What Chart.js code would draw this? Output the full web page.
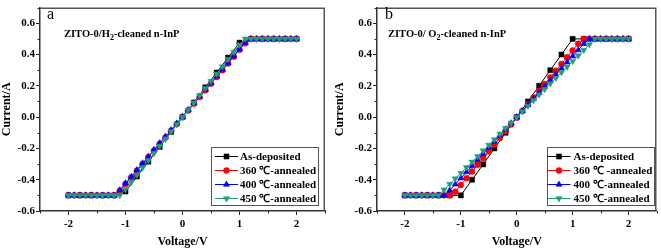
<!DOCTYPE html>
<html>
<head>
<meta charset="utf-8">
<script src="https://cdn.jsdelivr.net/npm/chart.js"></script>
<style>
  body { margin: 0; background: #fff; }
  #wrap { display: flex; width: 661px; height: 249px; }
  canvas { display: block; }
</style>
</head>
<body>
<div id="wrap">
  <canvas id="chartA" width="330" height="249"></canvas>
  <canvas id="chartB" width="331" height="249"></canvas>
</div>
<script>
// voltage sweep (red / blue / green sampled every 0.1 V, black every 0.2 V)
const voltsFine = [-2, -1.9, -1.8, -1.7, -1.6, -1.5, -1.4, -1.3, -1.2, -1.1, -1, -0.9, -0.8, -0.7, -0.6, -0.5, -0.4, -0.3, -0.2, -0.1,
  0, 0.1, 0.2, 0.3, 0.4, 0.5, 0.6, 0.7, 0.8, 0.9, 1, 1.1, 1.2, 1.3, 1.4, 1.5, 1.6, 1.7, 1.8, 1.9, 2];
const voltsCoarse = [-2, -1.8, -1.6, -1.4, -1.2, -1, -0.8, -0.6, -0.4, -0.2, 0, 0.2, 0.4, 0.6, 0.8, 1, 1.2, 1.4, 1.6, 1.8, 2];

// panel a : H2-cleaned
const aAsDep = [-0.5, -0.5, -0.5, -0.5, -0.5, -0.475, -0.38, -0.285, -0.19, -0.095, 0, 0.093, 0.19, 0.285, 0.38, 0.476, 0.5, 0.5, 0.5, 0.5, 0.5];
const a360 = [-0.5, -0.5, -0.5, -0.5, -0.5, -0.5, -0.5, -0.5, -0.5, -0.471, -0.427, -0.386, -0.342, -0.299, -0.256, -0.214, -0.171, -0.13, -0.087, -0.044,
  0, 0.042, 0.085, 0.128, 0.171, 0.214, 0.257, 0.3, 0.343, 0.386, 0.43, 0.472, 0.5, 0.5, 0.5, 0.5, 0.5, 0.5, 0.5, 0.5, 0.5];
const a400 = [-0.5, -0.5, -0.5, -0.5, -0.5, -0.5, -0.5, -0.5, -0.5, -0.467, -0.423, -0.381, -0.338, -0.295, -0.252, -0.209, -0.166, -0.125, -0.083, -0.04,
  0.003, 0.046, 0.089, 0.132, 0.175, 0.218, 0.261, 0.304, 0.347, 0.39, 0.434, 0.476, 0.5, 0.5, 0.5, 0.5, 0.5, 0.5, 0.5, 0.5, 0.5];
const a450 = [-0.5, -0.5, -0.5, -0.5, -0.5, -0.5, -0.5, -0.5, -0.5, -0.5, -0.462, -0.416, -0.37, -0.323, -0.277, -0.231, -0.185, -0.139, -0.092, -0.046,
  0, 0.046, 0.092, 0.139, 0.185, 0.231, 0.277, 0.323, 0.37, 0.416, 0.462, 0.5, 0.5, 0.5, 0.5, 0.5, 0.5, 0.5, 0.5, 0.5, 0.5];

// panel b : O2-cleaned
const bAsDep = [-0.5, -0.5, -0.5, -0.5, -0.5, -0.5, -0.4, -0.302, -0.2, -0.1, 0, 0.1, 0.2, 0.3, 0.4, 0.5, 0.5, 0.5, 0.5, 0.5, 0.5];
const b360 = [-0.5, -0.5, -0.5, -0.5, -0.5, -0.5, -0.5, -0.5, -0.5, -0.477, -0.434, -0.391, -0.348, -0.305, -0.262, -0.219, -0.176, -0.133, -0.09, -0.047,
  -0.004, 0.039, 0.082, 0.125, 0.168, 0.211, 0.254, 0.297, 0.34, 0.383, 0.426, 0.469, 0.5, 0.5, 0.5, 0.5, 0.5, 0.5, 0.5, 0.5, 0.5];
const b400 = [-0.5, -0.5, -0.5, -0.5, -0.5, -0.5, -0.5, -0.5, -0.468, -0.429, -0.39, -0.351, -0.312, -0.273, -0.234, -0.195, -0.156, -0.117, -0.078, -0.039,
  0, 0.039, 0.078, 0.117, 0.156, 0.195, 0.234, 0.273, 0.312, 0.351, 0.39, 0.429, 0.468, 0.5, 0.5, 0.5, 0.5, 0.5, 0.5, 0.5, 0.5];
const b450 = [-0.5, -0.5, -0.5, -0.5, -0.5, -0.5, -0.5, -0.464, -0.428, -0.393, -0.357, -0.321, -0.286, -0.25, -0.214, -0.178, -0.143, -0.107, -0.071, -0.036,
  0, 0.036, 0.071, 0.107, 0.143, 0.178, 0.214, 0.25, 0.286, 0.321, 0.357, 0.393, 0.428, 0.464, 0.5, 0.5, 0.5, 0.5, 0.5, 0.5, 0.5];

const namesA = ['As-deposited', '360 \u2103-annealed', '400 \u2103-annealed', '450 \u2103-annealed'];
const namesB = ['As-deposited', '360 \u2103 -annealed', '400 \u2103-annealed', '450 \u2103-annealed'];

const xTicks = [-2, -1, 0, 1, 2];
const yTicks = [-0.6, -0.4, -0.2, 0, 0.2, 0.4, 0.6];
const xMinor = [-2.5, -1.5, -0.5, 0.5, 1.5, 2.5];
const yMinor = [-0.5, -0.3, -0.1, 0.1, 0.3, 0.5, 0.7];

const serif = "'Liberation Serif', 'Times New Roman', serif";
Chart.defaults.font.family = serif;
Chart.defaults.color = '#000';

const colors = ['#000000', '#ff0000', '#0000ff', '#1f9e7a'];
const styles = [
  { pointStyle: 'rect', radius: 3.6, rotation: 0 },
  { pointStyle: 'circle', radius: 3, rotation: 0 },
  { pointStyle: 'triangle', radius: 3.6, rotation: 0 },
  { pointStyle: 'triangle', radius: 3.6, rotation: 180 }
];

const pts = (xs, ys) => xs.map((x, i) => ({ x: x, y: ys[i] }));

function makeSets(names, series) {
  return series.map((s, i) => ({
    label: names[i],
    data: s,
    showLine: true,
    borderColor: colors[i],
    borderWidth: 1,
    backgroundColor: colors[i],
    pointBackgroundColor: colors[i],
    pointBorderColor: colors[i],
    pointBorderWidth: 0.5,
    pointStyle: styles[i].pointStyle,
    pointRadius: styles[i].radius,
    pointRotation: styles[i].rotation,
    order: 4 - i
  }));
}

function drawMarker(ctx, st, x, y, color) {
  ctx.fillStyle = color;
  ctx.strokeStyle = color;
  ctx.lineWidth = 0.5;
  Chart.helpers.drawPoint(ctx, { pointStyle: st.pointStyle, radius: st.radius, rotation: st.rotation, borderWidth: 0.5 }, x, y);
}

// panel letter, inner caption, legend box, frame and minor ticks
const panelPlugin = {
  id: 'panel',
  afterDraw(chart, args, opts) {
    const ctx = chart.ctx;
    const area = chart.chartArea;
    const xs = chart.scales.x, ys = chart.scales.y;
    ctx.save();

    // frame top/right
    ctx.strokeStyle = '#555';
    ctx.lineWidth = 1.5;
    ctx.beginPath();
    ctx.moveTo(area.left, area.top + 0.75);
    ctx.lineTo(area.right - 0.75, area.top + 0.75);
    ctx.lineTo(area.right - 0.75, area.bottom);
    ctx.stroke();

    // minor ticks
    ctx.strokeStyle = '#222';
    ctx.lineWidth = 1;
    ctx.beginPath();
    xMinor.forEach(v => {
      const px = Math.round(xs.getPixelForValue(v)) + 0.5;
      ctx.moveTo(px, area.bottom);
      ctx.lineTo(px, area.bottom + 2.5);
    });
    yMinor.forEach(v => {
      const py = Math.round(ys.getPixelForValue(v)) + 0.5;
      ctx.moveTo(area.left - 2.5, py);
      ctx.lineTo(area.left, py);
    });
    ctx.stroke();

    // letter
    ctx.fillStyle = '#000';
    ctx.textBaseline = 'alphabetic';
    ctx.textAlign = 'left';
    ctx.font = '16px ' + serif;
    ctx.fillText(opts.letter, area.left + opts.letterDx, 19);

    // caption with subscript
    let cx = area.left + opts.captionDx;
    const cy = 37;
    ctx.font = 'bold 10.5px ' + serif;
    ctx.fillText(opts.pre, cx, cy);
    cx += ctx.measureText(opts.pre).width;
    ctx.font = 'bold 8px ' + serif;
    ctx.fillText(opts.sub, cx, cy + 3);
    cx += ctx.measureText(opts.sub).width;
    ctx.font = 'bold 10.5px ' + serif;
    ctx.fillText(opts.post, cx, cy);

    // legend
    const lg = opts.legend;
    const x0 = area.right - lg.right - lg.w;
    const y0 = area.bottom - lg.bottom - lg.h;
    ctx.strokeStyle = '#555';
    ctx.lineWidth = 1;
    ctx.strokeRect(Math.round(x0) + 0.5, Math.round(y0) + 0.5, lg.w, lg.h);
    ctx.font = 'bold 11px ' + serif;
    ctx.textBaseline = 'middle';
    chart.data.datasets.forEach((ds, i) => {
      const ry = Math.round(y0 + 8.5 + i * 14) + 0.5;
      ctx.strokeStyle = colors[i];
      ctx.lineWidth = 1;
      ctx.beginPath();
      ctx.moveTo(x0 + lg.lineStart, ry);
      ctx.lineTo(x0 + lg.lineEnd, ry);
      ctx.stroke();
      drawMarker(ctx, styles[i], x0 + (lg.lineStart + lg.lineEnd) / 2, ry, colors[i]);
      ctx.fillStyle = '#000';
      ctx.fillText(ds.label, x0 + lg.textX, ry + 0.5);
    });
    ctx.restore();
  }
};

function makeChart(id, sets, pad, yWidth, panel) {
  return new Chart(document.getElementById(id), {
    type: 'scatter',
    data: { datasets: sets },
    options: {
      responsive: false,
      animation: false,
      layout: { padding: pad },
      plugins: {
        legend: { display: false },
        tooltip: { enabled: false },
        panel: panel
      },
      scales: {
        x: {
          type: 'linear',
          min: -2.5,
          max: 2.5,
          afterBuildTicks: s => { s.ticks = xTicks.map(v => ({ value: v })); },
          afterFit: s => { s.height = 38; },
          grid: { drawOnChartArea: false, tickLength: 4, tickColor: '#222' },
          border: { color: '#333', width: 1.5 },
          ticks: {
            font: { size: 11, weight: 'bold' },
            color: '#000',
            padding: 3,
            maxRotation: 0,
            autoSkip: false,
            callback: v => String(v)
          },
          title: {
            display: true,
            text: 'Voltage/V',
            font: { size: 12, weight: 'bold' },
            color: '#000',
            padding: { top: 0, bottom: 0 }
          }
        },
        y: {
          type: 'linear',
          min: -0.6,
          max: 0.7,
          afterBuildTicks: s => { s.ticks = yTicks.map(v => ({ value: v })); },
          afterFit: s => { s.width = yWidth; },
          grid: { drawOnChartArea: false, tickLength: 4, tickColor: '#222' },
          border: { color: '#333', width: 1.5 },
          ticks: {
            font: { size: 11, weight: 'bold' },
            color: '#000',
            padding: 1,
            autoSkip: false,
            callback: v => Number(v).toFixed(1)
          },
          title: {
            display: true,
            text: 'Current/A',
            font: { size: 12, weight: 'bold' },
            color: '#000',
            padding: { top: 0, bottom: 0 }
          }
        }
      }
    },
    plugins: [panelPlugin]
  });
}

makeChart('chartA',
  makeSets(namesA, [pts(voltsCoarse, aAsDep), pts(voltsFine, a360), pts(voltsFine, a400), pts(voltsFine, a450)]),
  { left: 0, right: 5, top: 2, bottom: 0 }, 40,
  { letter: 'a', letterDx: 7, pre: 'ZITO-0/H', sub: '2', post: '-cleaned n-InP', captionDx: 24,
    legend: { right: 7, bottom: 6, w: 107, h: 58, lineStart: 4, lineEnd: 27, textX: 29 } });

makeChart('chartB',
  makeSets(namesB, [pts(voltsCoarse, bAsDep), pts(voltsFine, b360), pts(voltsFine, b400), pts(voltsFine, b450)]),
  { left: 3, right: 3, top: 2, bottom: 0 }, 44,
  { letter: 'b', letterDx: 8, pre: 'ZITO-0/ O', sub: '2', post: '-cleaned n-InP', captionDx: 11,
    legend: { right: 3, bottom: 6, w: 107, h: 58, lineStart: 1, lineEnd: 24, textX: 27 } });
</script>
</body>
</html>
